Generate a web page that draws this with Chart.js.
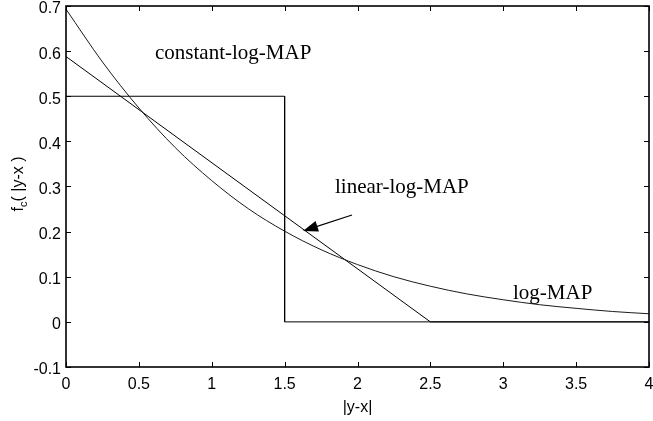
<!DOCTYPE html>
<html>
<head>
<meta charset="utf-8">
<script src="https://cdn.jsdelivr.net/npm/chart.js@4/dist/chart.umd.min.js"></script>
<style>html,body{margin:0;padding:0;background:#fff}</style>
</head>
<body>
<canvas id="c" width="653" height="421"></canvas>
<script>
// tick labels
var xTicks = [0, 0.5, 1, 1.5, 2, 2.5, 3, 3.5, 4];
var yTicks = [-0.1, 0, 0.1, 0.2, 0.3, 0.4, 0.5, 0.6, 0.7];

// log-MAP curve
var logMapX = [0, 0.25, 0.5, 0.75, 1, 1.25, 1.5, 1.75, 2, 2.25, 2.5, 2.75, 3, 3.25, 3.5, 3.75, 4];
var logMapY = [0.693, 0.576, 0.474, 0.386, 0.313, 0.251, 0.201, 0.160, 0.127, 0.100, 0.079, 0.062, 0.049, 0.038, 0.030, 0.023, 0.018];

// linear-log-MAP
var linearX = [0, 2.5, 4];
var linearY = [0.588, 0, 0];

// constant-log-MAP
var constX = [0, 1.5, 1.5, 4];
var constY = [0.5, 0.5, 0, 0];

function pts(xs, ys) {
    var out = [];
    for (var i = 0; i < xs.length; i++) out.push({x: xs[i], y: ys[i]});
    return out;
}

var sansFont = '"Liberation Sans", Arial, sans-serif';
var serifFont = '"Liberation Serif", "Times New Roman", serif';

// frame, inward ticks, labels, arrow
var decor = {
    id: 'decor',
    afterDraw: function(chart) {
        var ctx = chart.ctx;
        var a = chart.chartArea;
        var sx = chart.scales.x, sy = chart.scales.y;
        ctx.save();
        ctx.strokeStyle = '#000';
        ctx.lineWidth = 1;
        for (var i = 0; i < xTicks.length; i++) {
            var px = Math.round(sx.getPixelForValue(xTicks[i])) + 0.5;
            ctx.beginPath();
            ctx.moveTo(px, a.bottom); ctx.lineTo(px, a.bottom - 5);
            ctx.moveTo(px, a.top); ctx.lineTo(px, a.top + 5);
            ctx.stroke();
        }
        for (var j = 0; j < yTicks.length; j++) {
            var py = Math.round(sy.getPixelForValue(yTicks[j])) + 0.5;
            ctx.beginPath();
            ctx.moveTo(a.left, py); ctx.lineTo(a.left + 5, py);
            ctx.moveTo(a.right, py); ctx.lineTo(a.right - 5, py);
            ctx.stroke();
        }
        ctx.lineWidth = 1.6;
        ctx.strokeRect(a.left, a.top, a.right - a.left, a.bottom - a.top);

        // curve labels
        ctx.fillStyle = '#000';
        ctx.font = '21px ' + serifFont;
        ctx.textBaseline = 'alphabetic';
        ctx.textAlign = 'left';
        ctx.fillText('constant-log-MAP', 155, 59);
        ctx.fillText('linear-log-MAP', 335, 193);
        ctx.fillText('log-MAP', 513, 299);

        // arrow
        var x0 = 352, y0 = 215, x1 = 303, y1 = 231;
        var ang = Math.atan2(y1 - y0, x1 - x0);
        ctx.lineWidth = 1.2;
        ctx.beginPath();
        ctx.moveTo(x0, y0);
        ctx.lineTo(x1 - 10 * Math.cos(ang), y1 - 10 * Math.sin(ang));
        ctx.stroke();
        ctx.beginPath();
        ctx.moveTo(x1, y1);
        ctx.lineTo(x1 - 15 * Math.cos(ang) + 5.5 * Math.sin(ang), y1 - 15 * Math.sin(ang) - 5.5 * Math.cos(ang));
        ctx.lineTo(x1 - 15 * Math.cos(ang) - 5.5 * Math.sin(ang), y1 - 15 * Math.sin(ang) + 5.5 * Math.cos(ang));
        ctx.closePath();
        ctx.fill();

        // axis titles
        ctx.font = '16px ' + sansFont;
        ctx.textAlign = 'center';
        ctx.textBaseline = 'middle';
        ctx.fillText('|y-x|', (a.left + a.right) / 2, 408);

        ctx.translate(17, 184);
        ctx.rotate(-Math.PI / 2);
        ctx.textAlign = 'left';
        ctx.textBaseline = 'alphabetic';
        var big = '16px ' + sansFont, small = '11px ' + sansFont;
        ctx.font = big;
        var wf = ctx.measureText('f').width;
        var wr = ctx.measureText('( |y-x )').width;
        ctx.font = small;
        var wc = ctx.measureText('c').width;
        var x = -(wf + wc + wr) / 2;
        ctx.font = big;
        ctx.fillText('f', x, 6);
        ctx.font = small;
        ctx.fillText('c', x + wf, 10);
        ctx.font = big;
        ctx.fillText('( |y-x )', x + wf + wc, 6);
        ctx.restore();
    }
};

new Chart(document.getElementById('c').getContext('2d'), {
    type: 'scatter',
    data: {
        datasets: [
            {label: 'log-MAP', data: pts(logMapX, logMapY), showLine: true, borderColor: '#1a1a1a',
             borderWidth: 1, pointRadius: 0, cubicInterpolationMode: 'monotone'},
            {label: 'linear-log-MAP', data: pts(linearX, linearY), showLine: true, borderColor: '#000',
             borderWidth: 1, pointRadius: 0},
            {label: 'constant-log-MAP', data: pts(constX, constY), showLine: true, borderColor: '#000',
             borderWidth: 1, pointRadius: 0}
        ]
    },
    options: {
        responsive: false,
        animation: false,
        devicePixelRatio: 1,
        layout: {padding: {top: 6, right: 4, left: 0, bottom: 0}},
        plugins: {legend: {display: false}, tooltip: {enabled: false}},
        scales: {
            x: {
                type: 'linear', min: 0, max: 4,
                grid: {display: false, drawTicks: false},
                border: {display: false},
                afterBuildTicks: function(s) { s.ticks = xTicks.map(function(v) { return {value: v}; }); },
                ticks: {color: '#000', padding: 8, maxRotation: 0, font: {family: sansFont, size: 16},
                        callback: function(v) { return String(v); }},
                afterFit: function(s) { s.height = 54; s.paddingLeft = 0; s.paddingRight = 0; }
            },
            y: {
                type: 'linear', min: -0.1, max: 0.7,
                grid: {display: false, drawTicks: false},
                border: {display: false},
                afterBuildTicks: function(s) { s.ticks = yTicks.map(function(v) { return {value: v}; }); },
                ticks: {color: '#000', padding: 5, labelOffset: 3, font: {family: sansFont, size: 16},
                        callback: function(v) { return String(Math.round(v * 10) / 10); }},
                afterFit: function(s) { s.width = 66; s.paddingTop = 0; s.paddingBottom = 0; }
            }
        }
    },
    plugins: [decor]
});
</script>
</body>
</html>
